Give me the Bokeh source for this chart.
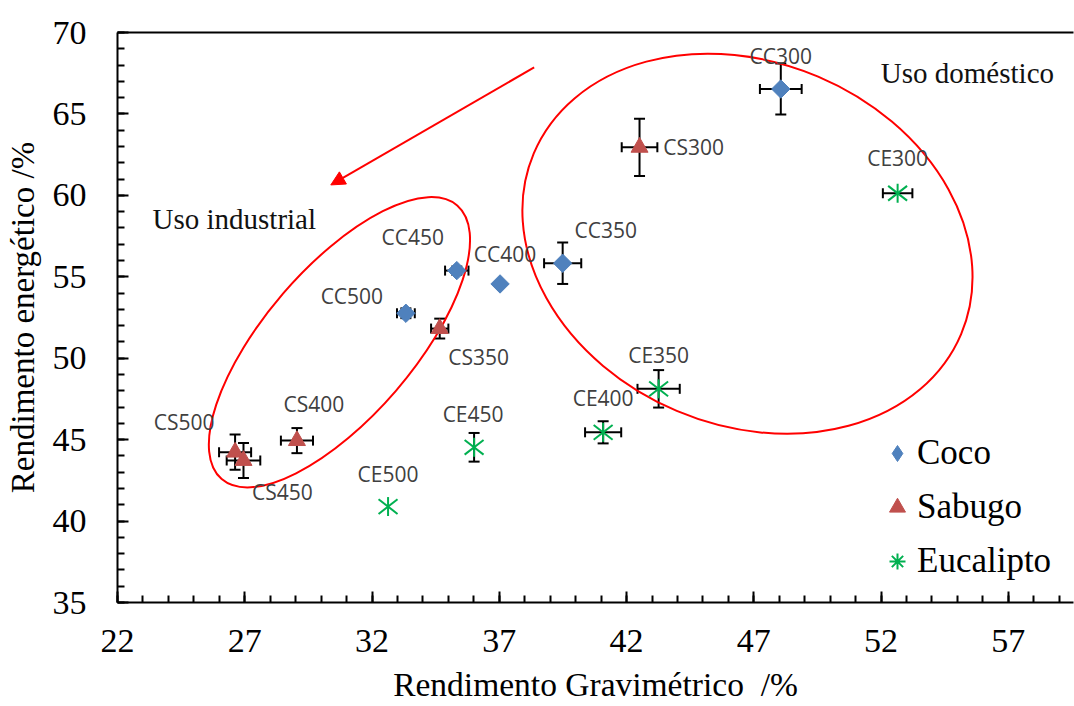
import math
from bokeh.plotting import figure
from bokeh.models import (ColumnDataSource, Whisker, TeeHead, Arrow, NormalHead,
                          Legend, LegendItem, FixedTicker, LinearAxis, Range1d, Label)
from bokeh.core.properties import value
from bokeh.embed import file_html
from bokeh.resources import INLINE

# ---------------- data ----------------
coco_labels = ["CC300", "CC350", "CC400", "CC450", "CC500"]
coco_x = [48.06, 39.49, 37.03, 35.33, 33.33]
coco_y = [66.53, 55.83, 54.56, 55.38, 52.76]
coco_xerr = [0.82, 0.73, 0.0, 0.46, 0.35]
coco_yerr = [1.57, 1.27, 0.0, 0.25, 0.30]

sabugo_labels = ["CS300", "CS350", "CS400", "CS450", "CS500"]
sabugo_x = [42.51, 34.66, 29.05, 26.95, 26.62]
sabugo_y = [62.95, 51.82, 44.94, 43.72, 44.23]
sabugo_xerr = [0.70, 0.34, 0.63, 0.66, 0.63]
sabugo_yerr = [1.76, 0.61, 0.77, 1.07, 1.08]

euc_labels = ["CE300", "CE350", "CE400", "CE450", "CE500"]
euc_x = [52.65, 43.26, 41.08, 36.01, 32.63]
euc_y = [60.13, 48.12, 45.45, 44.53, 40.89]
euc_xerr = [0.58, 0.83, 0.71, 0.0, 0.0]
euc_yerr = [0.0, 1.15, 0.68, 0.88, 0.0]

x_major_ticks = [22, 27, 32, 37, 42, 47, 52, 57]
y_major_ticks = [35, 40, 45, 50, 55, 60, 65, 70]

# label placement (screen pixel offsets from each point; layout only)
coco_dx = [0, 43, 5, -44, -54]
coco_dy = [-33, -33, -30, -34, -17]
sabugo_dx = [54, 39, 17, 39, -51]
sabugo_dy = [0, 28, -37, 32, -30]
euc_dx = [0, 0, 0, -1, 0]
euc_dy = [-35, -34, -34, -33, -33]

BLUE = "#4F81BD"
RED = "#C0504D"
GREEN = "#00B050"
SERIF = "Liberation Serif"

p = figure(width=1074, height=706, x_range=Range1d(22, 59.56), y_range=Range1d(35, 70),
           output_backend="svg", toolbar_location=None,
           min_border_left=117, min_border_right=1, min_border_top=32, min_border_bottom=104)
p.xgrid.visible = False
p.ygrid.visible = False
p.outline_line_color = None
p.background_fill_color = "white"

p.xaxis.ticker = FixedTicker(ticks=x_major_ticks, minor_ticks=list(range(22, 60)))
p.yaxis.ticker = FixedTicker(ticks=y_major_ticks, minor_ticks=list(range(35, 71)))
for ax in [p.xaxis[0], p.yaxis[0]]:
    ax.axis_line_width = 2
    ax.axis_line_color = "black"
    ax.major_tick_line_width = 2
    ax.minor_tick_line_width = 2
    ax.major_tick_in = 11
    ax.major_tick_out = 0
    ax.minor_tick_in = 7
    ax.minor_tick_out = 0
    ax.major_label_text_font = SERIF
    ax.major_label_text_font_size = "34px"
    ax.major_label_text_color = "black"
    ax.axis_label_text_font = SERIF
    ax.axis_label_text_font_style = "normal"
    ax.axis_label_text_color = "black"
p.xaxis.axis_label = "Rendimento Gravimétrico\u00a0\u00a0/%"
p.yaxis.axis_label = "Rendimento energético /%"
p.xaxis.axis_label_text_font_size = "33.5px"
p.yaxis.axis_label_text_font_size = "33px"
p.xaxis.major_label_standoff = 27
p.xaxis.axis_label_standoff = 11
p.yaxis.major_label_standoff = 31
p.yaxis.axis_label_standoff = 9

top = LinearAxis(ticker=FixedTicker(ticks=[]), axis_line_width=2, axis_line_color="black",
                 major_tick_line_color=None, minor_tick_line_color=None,
                 major_label_text_font_size="0px")
p.add_layout(top, "above")

# ellipses (annotation shapes)
p.ellipse(x=[46.75], y=[57.03], width=464, height=363, angle=-0.40,
          width_units="screen", height_units="screen",
          fill_color=None, line_color="#FF0000", line_width=2)
p.ellipse(x=[30.72], y=[50.98], width=361, height=149, angle=0.86,
          width_units="screen", height_units="screen",
          fill_color=None, line_color="#FF0000", line_width=2)

p.add_layout(Arrow(end=NormalHead(size=14, fill_color="#FF0000", line_color="#FF0000"),
                   x_start=38.37, y_start=67.86, x_end=30.38, y_end=60.64,
                   line_color="#FF0000", line_width=2))

p.add_layout(Label(x=23.375, y=58.57, text="Uso industrial", text_font=SERIF,
                   text_font_size="29px", text_baseline="middle", text_color="#111111"))
p.add_layout(Label(x=51.99, y=67.50, text="Uso doméstico", text_font=SERIF,
                   text_font_size="29px", text_baseline="middle", text_color="#111111"))


def add_errors(xs, ys, xe, ye):
    hx = [(x, y, e) for x, y, e in zip(xs, ys, xe) if e > 0]
    hy = [(x, y, e) for x, y, e in zip(xs, ys, ye) if e > 0]
    if hx:
        src = ColumnDataSource(dict(base=[h[1] for h in hx],
                                    lo=[h[0] - h[2] for h in hx],
                                    hi=[h[0] + h[2] for h in hx]))
        p.add_layout(Whisker(source=src, base="base", lower="lo", upper="hi", dimension="width",
                             line_width=2, line_color="black", level="underlay",
                             upper_head=TeeHead(size=10, line_width=2, line_color="black"),
                             lower_head=TeeHead(size=10, line_width=2, line_color="black")))
    if hy:
        src = ColumnDataSource(dict(base=[h[0] for h in hy],
                                    lo=[h[1] - h[2] for h in hy],
                                    hi=[h[1] + h[2] for h in hy]))
        p.add_layout(Whisker(source=src, base="base", lower="lo", upper="hi", dimension="height",
                             line_width=2, line_color="black", level="underlay",
                             upper_head=TeeHead(size=11, line_width=2, line_color="black"),
                             lower_head=TeeHead(size=11, line_width=2, line_color="black")))


add_errors(coco_x, coco_y, coco_xerr, coco_yerr)
add_errors(sabugo_x, sabugo_y, sabugo_xerr, sabugo_yerr)
add_errors(euc_x, euc_y, euc_xerr, euc_yerr)

src_c = ColumnDataSource(dict(x=coco_x, y=coco_y, label=coco_labels, dx=coco_dx, dy=coco_dy))
src_s = ColumnDataSource(dict(x=sabugo_x, y=sabugo_y, label=sabugo_labels, dx=sabugo_dx, dy=sabugo_dy))
src_e = ColumnDataSource(dict(x=euc_x, y=euc_y, label=euc_labels, dx=euc_dx, dy=euc_dy))

r_c = p.scatter("x", "y", source=src_c, marker="square", angle=math.pi / 4, size=13,
                fill_color=BLUE, line_color=BLUE)
r_s = p.scatter("x", "y", source=src_s, marker="triangle", size=17,
                fill_color=RED, line_color=RED)
r_e1 = p.scatter("x", "y", source=src_e, marker="dash", angle=math.pi / 2, size=19,
                 line_color=GREEN, line_width=2)
r_e2 = p.scatter("x", "y", source=src_e, marker="dash", angle=0.66, size=24,
                 line_color=GREEN, line_width=2)
r_e3 = p.scatter("x", "y", source=src_e, marker="dash", angle=-0.66, size=24,
                 line_color=GREEN, line_width=2)

for src in (src_c, src_s, src_e):
    p.text(x="x", y="y", text="label", x_offset="dx", y_offset="dy", source=src,
           text_font=value("Open Sans"), text_font_size="21px", text_color="#404040",
           text_align="center", text_baseline="middle")

# legend glyphs (hidden in the plot; the legend draws them unrotated)
lg_c = p.scatter("x", "y", source=src_c, marker="diamond", fill_color=BLUE, line_color=BLUE,
                 visible=False)
lg_s = p.scatter("x", "y", source=src_s, marker="triangle", fill_color=RED, line_color=RED,
                 visible=False)
lg_e = p.scatter("x", "y", source=src_e, marker="asterisk", line_color=GREEN, line_width=2,
                 visible=False)

legend = Legend(items=[LegendItem(label="Coco", renderers=[lg_c]),
                       LegendItem(label="Sabugo", renderers=[lg_s]),
                       LegendItem(label="Eucalipto", renderers=[lg_e])],
                location=(760, 21), orientation="vertical", padding=0, margin=0,
                spacing=14, glyph_width=40, glyph_height=40, label_height=40,
                label_standoff=0, border_line_color=None, background_fill_alpha=0,
                inactive_fill_alpha=0, click_policy="none",
                label_text_font=SERIF, label_text_font_size="35px",
                label_text_color="black")
p.add_layout(legend)

open("out.html", "w").write(file_html(p, INLINE))
